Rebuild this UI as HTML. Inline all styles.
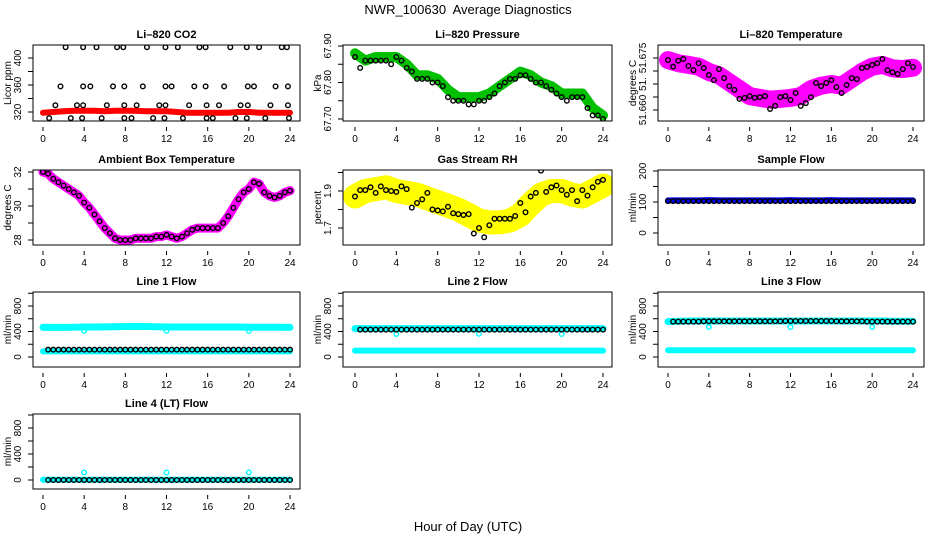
<!DOCTYPE html>
<html><head><meta charset="utf-8"><style>
html,body{margin:0;padding:0;background:#fff;}
svg{display:block;font-family:"Liberation Sans",Arial,sans-serif;}
text{white-space:pre;}
</style></head><body>
<svg id="chart" width="936" height="540" viewBox="0 0 936 540" xmlns="http://www.w3.org/2000/svg">
<text x="468" y="14" text-anchor="middle" font-size="13" xml:space="preserve">NWR_100630  Average Diagnostics</text>
<text x="468" y="531" text-anchor="middle" font-size="13">Hour of Day (UTC)</text>
</svg>
<script>
// ---- data ----
const halfHours = [0,0.5,1,1.5,2,2.5,3,3.5,4,4.5,5,5.5,6,6.5,7,7.5,8,8.5,9,9.5,10,10.5,11,11.5,12,12.5,13,13.5,14,14.5,15,15.5,16,16.5,17,17.5,18,18.5,19,19.5,20,20.5,21,21.5,22,22.5,23,23.5,24];
const hours = [0,1,2,3,4,5,6,7,8,9,10,11,12,13,14,15,16,17,18,19,20,21,22,23,24];
const xTicks = [0,4,8,12,16,20,24];

const co2Band = [319,320,321,322,322,322,321,322,322,322,321,321,321,320,319,319,319,319,319,320,320,319,319,319,319];
const co2HighX = [2.2,3.9,5.2,7.2,7.8,10.1,11.9,13.1,15.2,15.8,18.2,19.8,21.0,23.2,23.7];
const co2HighY = [416,416,416,416,416,416,416,416,416,416,416,416,416,416,416];
const co2MidX = [1.7,3.9,4.6,6.8,7.9,9.7,11.9,12.5,14.7,15.8,17.6,19.9,20.5,22.6,23.8];
const co2MidY = [358,358,358,358,358,358,358,358,358,358,358,358,358,358,358];
const co2LowX = [1.2,3.3,3.9,6.2,7.9,9.1,11.3,11.9,14.2,15.9,17.1,19.2,19.9,22.1,23.8];
const co2LowY = [330,330,330,330,330,330,330,330,330,330,330,330,330,330,330];
const co2BotX = [0.6,2.7,3.8,5.7,7.9,8.6,10.7,11.8,13.6,15.9,16.5,18.7,19.8,21.6,23.9];
const co2BotY = [311,311,311,311,311,311,311,311,311,311,311,311,311,311,311];

const pressBand = [67.88,67.86,67.87,67.87,67.87,67.85,67.82,67.82,67.81,67.78,67.76,67.76,67.76,67.77,67.79,67.81,67.83,67.82,67.80,67.79,67.77,67.77,67.77,67.73,67.71];
const pressMean = [67.87,67.84,67.86,67.86,67.86,67.86,67.86,67.85,67.87,67.86,67.84,67.83,67.81,67.81,67.81,67.80,67.80,67.79,67.76,67.75,67.75,67.75,67.74,67.74,67.75,67.75,67.76,67.77,67.79,67.80,67.81,67.81,67.82,67.82,67.81,67.80,67.80,67.79,67.78,67.77,67.76,67.75,67.76,67.76,67.76,67.73,67.71,67.71,67.70];

const tempMean = [51.6744,51.6725,51.6742,51.6747,51.6727,51.6715,51.6735,51.6721,51.6701,51.6686,51.6718,51.6692,51.6669,51.6658,51.6632,51.6635,51.6640,51.6635,51.6637,51.6640,51.6603,51.6612,51.6637,51.6640,51.6629,51.6649,51.6612,51.6620,51.6637,51.6678,51.6669,51.6678,51.6686,51.6666,51.6649,51.6672,51.6692,51.6689,51.6721,51.6724,51.6730,51.6735,51.6747,51.6715,51.6709,51.6704,51.6718,51.6735,51.6724];
const tempBand = [51.6744,51.6735,51.6730,51.6725,51.6710,51.6700,51.6680,51.6660,51.6640,51.6635,51.6630,51.6632,51.6635,51.6640,51.6660,51.6670,51.6675,51.6670,51.6690,51.6710,51.6725,51.6730,51.6720,51.6718,51.6722];

const ambMean = [32.0,31.9,31.6,31.4,31.2,31.0,30.8,30.6,30.2,29.9,29.5,29.1,28.7,28.4,28.1,28.0,28.0,28.0,28.1,28.1,28.1,28.1,28.2,28.2,28.3,28.2,28.1,28.2,28.4,28.6,28.7,28.7,28.7,28.7,28.7,29.0,29.4,29.9,30.4,30.8,31.0,31.4,31.3,30.8,30.6,30.5,30.6,30.8,30.9];

const rhBand = [1.87,1.90,1.91,1.92,1.90,1.89,1.88,1.86,1.84,1.82,1.80,1.77,1.74,1.73,1.73,1.74,1.77,1.83,1.88,1.90,1.90,1.88,1.87,1.90,1.93];
const rhMean = [1.87,1.905,1.905,1.92,1.89,1.925,1.905,1.90,1.895,1.925,1.91,1.81,1.835,1.855,1.89,1.80,1.795,1.79,1.815,1.78,1.775,1.77,1.775,1.67,1.70,1.65,1.715,1.75,1.75,1.75,1.75,1.765,1.835,1.785,1.87,1.89,2.01,1.895,1.92,1.93,1.905,1.88,1.905,1.845,1.905,1.875,1.92,1.95,1.96];

const sampleBand = [105,105,105,105,106,105,105,105,105,105,105,105,106,105,105,105,106,105,105,105,105,105,105,105,105];
const sampleMean = [103,103,103,103,103,103,103,103,103,103,103,103,103,103,103,103,103,103,103,103,103,103,103,103,103,103,103,103,103,103,103,103,103,103,103,103,103,103,103,103,103,103,103,103,103,103,103,103,103];

const l1Upper = [465,465,465,468,470,470,472,475,478,480,478,475,470,470,470,470,470,470,470,470,468,468,468,468,465];
const l1Lower = [88,88,88,88,88,88,88,88,88,88,88,88,88,88,88,88,88,88,88,88,88,88,88,88,88];
const l1Mean = [115,115,115,115,115,115,115,115,115,115,115,115,115,115,115,115,115,115,115,115,115,115,115,115,115];
const l2Upper = [445,445,445,445,445,445,445,445,445,445,445,445,445,445,445,445,445,445,445,445,445,445,445,445,445];
const l2Lower = [100,100,100,100,100,100,100,100,100,100,100,100,100,100,100,100,100,100,100,100,100,100,100,100,100];
const l2Mean = [430,430,430,430,430,430,430,430,430,430,430,430,430,430,430,430,430,430,430,430,430,430,430,430,430];
const l3Upper = [555,560,565,565,565,565,565,565,565,565,565,565,565,565,565,565,565,565,565,565,565,565,560,560,560];
const l3Lower = [105,105,105,105,105,105,105,105,105,105,105,105,105,105,105,105,105,105,105,105,105,105,105,105,105];
const l3Mean = [555,555,555,555,560,560,560,560,560,560,560,560,565,565,565,565,565,560,560,560,555,555,555,555,555];
const l4Band = [5,5,5,5,5,5,5,5,5,5,5,5,5,5,5,5,5,5,5,5,5,5,5,5,5];
const l4Mean = [0,0,0,0,0,0,0,0,0,0,0,0,0,0,0,0,0,0,0,0,0,0,0,0,0];
const dipHours = [4,12,20];
const l1Dips = [410,410,410];
const l2Dips = [360,365,360];
const l3Dips = [470,470,470];
const l4Dips = [115,115,115];

// ---- layout ----
const NS = "http://www.w3.org/2000/svg";
const svg = document.getElementById('chart');
const cols = [{l:33,r:300,x0:43,x24:290,lab:17,tit:7},{l:343,r:612,x0:355,x24:603,lab:327,tit:317},{l:658,r:924,x0:668,x24:913,lab:642,tit:632}];
const rows = [{t:45,b:121},{t:170,b:245},{t:292,b:367},{t:414,b:489}];

function el(tag, attrs, parent){const e=document.createElementNS(NS,tag);for(const k in attrs)e.setAttribute(k,attrs[k]);(parent||svg).appendChild(e);return e;}

function panel(ci, ri, name, title, ytitle, v1, p1, v2, p2, yTicks, yLabels){
  const c=cols[ci], r=rows[ri];
  const g=el('g',{});
  
  
  const sx=h=>c.x0+(c.x24-c.x0)*h/24;
  const sy=v=>p1+(v-v1)*(p2-p1)/(v2-v1);
  const clipId='clip-'+name;
  const cp=el('clipPath',{id:clipId},g);
  el('rect',{x:c.l,y:r.t,width:c.r-c.l,height:r.b-r.t},cp);
  const plot=el('g',{'clip-path':'url(#'+clipId+')'},g);
  
  
  const box=el('rect',{x:c.l,y:r.t,width:c.r-c.l,height:r.b-r.t,fill:'none',stroke:'#000','stroke-width':1},g);
  
  
  const tt=el('text',{x:(c.l+c.r)/2,y:r.t-7,'text-anchor':'middle','font-size':11,'font-weight':'bold'},g);
  tt.textContent=title;
  
  
  const yt=el('text',{transform:`translate(${c.tit+4},${(r.t+r.b)/2}) rotate(-90)`,'text-anchor':'middle','font-size':10},g);
  yt.textContent=ytitle;
  
  
  xTicks.forEach(h=>{
    const x=sx(h);
    const tk=el('line',{x1:x,x2:x,y1:r.b+6,y2:r.b+10,stroke:'#000'},g);
    
    
    const tl=el('text',{x:x,y:r.b+21,'text-anchor':'middle','font-size':10},g);
    tl.textContent=String(h);
    
    
  });
  yTicks.forEach((v,i)=>{
    const y=sy(v);
    const tk=el('line',{x1:c.l-5,x2:c.l,y1:y,y2:y,stroke:'#000'},g);
    
    
    if(yLabels[i]){
      const tl=el('text',{transform:`translate(${c.lab+4},${y}) rotate(-90)`,'text-anchor':'middle','font-size':10},g);
      tl.textContent=yLabels[i];
      
      
    }
  });
  return {
    band(xs, ys, color, w, label){
      const pts=xs.map((h,i)=>sx(h).toFixed(1)+','+sy(ys[i]).toFixed(1)).join(' ');
      const pl=el('polyline',{points:pts,fill:'none',stroke:color,'stroke-width':w,'stroke-linejoin':'round','stroke-linecap':'round'},plot);
      
      
    },
    points(xs, ys, color, label){
      xs.forEach((h,i)=>{
        const ci2=el('circle',{cx:sx(h),cy:sy(ys[i]),r:2.3,fill:'none',stroke:color,'stroke-width':1.4},plot);
        
        
      });
    }
  };
}

// CO2
let p=panel(0,0,'co2-panel','Li\u2013820 CO2','Licor ppm',320,112,400,58,[320,340,360,380,400],['320','','360','','400']);
p.band(hours,co2Band,'#ff0000',6,'co2-band');
p.points(co2HighX,co2HighY,'#000','co2-point');
p.points(co2MidX,co2MidY,'#000','co2-point');
p.points(co2LowX,co2LowY,'#000','co2-point');
p.points(co2BotX,co2BotY,'#000','co2-point');

// Pressure
p=panel(1,0,'pressure-panel','Li\u2013820 Pressure','kPa',67.70,119,67.90,46,[67.70,67.75,67.80,67.85,67.90],['67.70','','67.80','','67.90']);
p.band(hours,pressBand,'#00c000',10,'pressure-band');
p.points(halfHours,pressMean,'#000','pressure-point');

// Temperature
p=panel(2,0,'temperature-panel','Li\u2013820 Temperature','degrees C',51.660,110,51.675,58,[51.660,51.66375,51.6675,51.67125,51.675],['51.660','','51.','','51.675']);
p.band(hours,tempBand,'#ff00ff',18,'temperature-band');
p.points(halfHours,tempMean,'#000','temperature-point');

// Ambient
p=panel(0,1,'ambient-panel','Ambient Box Temperature','degrees C',28,240,32,172,[28,29,30,31,32],['28','','30','','32']);
p.band(halfHours,ambMean,'#ff00ff',9,'ambient-band');
p.points(halfHours,ambMean,'#000','ambient-point');

// RH
p=panel(1,1,'rh-panel','Gas Stream RH','percent',1.7,228,1.9,191,[1.7,1.8,1.9,2.0],['1.7','','1.9','']);
p.band(hours,rhBand,'#ffff00',24,'rh-band');
p.points(halfHours,rhMean,'#000','rh-point');

// Sample flow
p=panel(2,1,'sample-flow-panel','Sample Flow','ml/min',0,233,200,171,[0,50,100,150,200],['0','','100','','200']);
p.band(hours,sampleBand,'#0000ff',6,'sample-flow-band');
p.points(halfHours,sampleMean,'#000','sample-flow-point');

const fT=[0,200,400,600,800,1000], fL=['0','','400','','800',''];
p=panel(0,2,'line1-panel','Line 1 Flow','ml/min',0,357,800,306,fT,fL);
p.band(hours,l1Upper,'#00ffff',7,'line1-upper-band');
p.band(hours,l1Lower,'#00ffff',6,'line1-lower-band');
p.points(dipHours,l1Dips,'#00ffff','line1-dip');
p.points(halfHours.slice(1),halfHours.slice(1).map((h)=>l1Mean[Math.round(h)]),'#000','line1-point');

p=panel(1,2,'line2-panel','Line 2 Flow','ml/min',0,357,800,306,fT,fL);
p.band(hours,l2Upper,'#00ffff',7,'line2-upper-band');
p.band(hours,l2Lower,'#00ffff',6,'line2-lower-band');
p.points(dipHours,l2Dips,'#00ffff','line2-dip');
p.points(halfHours.slice(1),halfHours.slice(1).map((h)=>l2Mean[Math.round(h)]),'#000','line2-point');

p=panel(2,2,'line3-panel','Line 3 Flow','ml/min',0,357,800,306,fT,fL);
p.band(hours,l3Upper,'#00ffff',7,'line3-upper-band');
p.band(hours,l3Lower,'#00ffff',6,'line3-lower-band');
p.points(dipHours,l3Dips,'#00ffff','line3-dip');
p.points(halfHours.slice(1),halfHours.slice(1).map((h)=>l3Mean[Math.round(h)]),'#000','line3-point');

p=panel(0,3,'line4-panel','Line 4 (LT) Flow','ml/min',0,480,800,428,fT,fL);
p.band(hours,l4Band,'#00ffff',6,'line4-band');
p.points(dipHours,l4Dips,'#00ffff','line4-dip');
p.points(halfHours.slice(1),halfHours.slice(1).map((h)=>l4Mean[Math.round(h)]),'#000','line4-point');
</script>
</body></html>
